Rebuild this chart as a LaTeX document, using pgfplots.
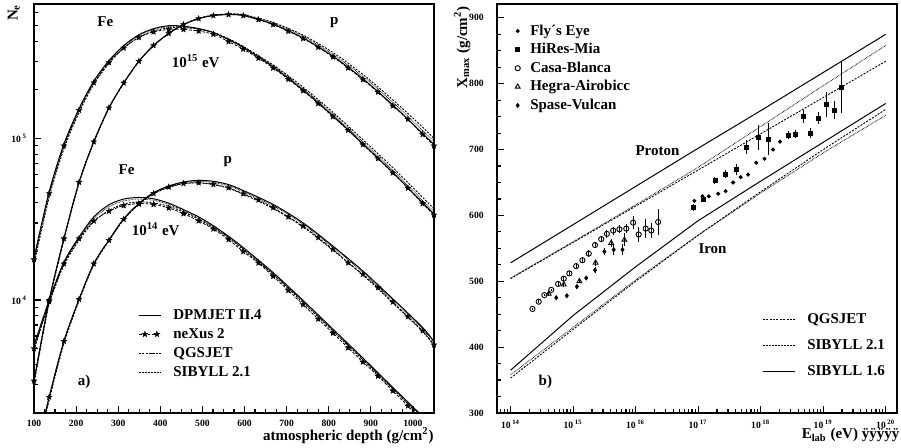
\documentclass[border=0pt]{standalone}
\usepackage{pgfplots}
\pgfplotsset{compat=1.18}
\usepackage{pgfplotstable}
\usepackage{fontspec}
\setmainfont{Liberation Serif}

% filled five-pointed star for the neXus curves
\pgfdeclareplotmark{fstar}{%
  \pgfpathmoveto{\pgfpointpolar{90}{\pgfplotmarksize}}%
  \pgfpathlineto{\pgfpointpolar{126}{0.42\pgfplotmarksize}}%
  \pgfpathlineto{\pgfpointpolar{162}{\pgfplotmarksize}}%
  \pgfpathlineto{\pgfpointpolar{198}{0.42\pgfplotmarksize}}%
  \pgfpathlineto{\pgfpointpolar{234}{\pgfplotmarksize}}%
  \pgfpathlineto{\pgfpointpolar{270}{0.42\pgfplotmarksize}}%
  \pgfpathlineto{\pgfpointpolar{306}{\pgfplotmarksize}}%
  \pgfpathlineto{\pgfpointpolar{342}{0.42\pgfplotmarksize}}%
  \pgfpathlineto{\pgfpointpolar{18}{\pgfplotmarksize}}%
  \pgfpathlineto{\pgfpointpolar{54}{0.42\pgfplotmarksize}}%
  \pgfpathclose
  \pgfusepathqfillstroke}

\newcommand{\lab}{\fontsize{7.5}{9}\selectfont\bfseries}
\newcommand{\tck}{\fontsize{4.8}{5.5}\selectfont\bfseries}

% Fe, 10^15 eV
\pgfplotstableread{
x dpm qgs sib
100 18200 16600 17380
136 46800 43150 45190
171 92300 86100 89130
207 153100 144500 149600
242 226500 216300 223900
278 303400 291700 300600
313 375800 363100 371500
349 438500 423600 433500
384 478600 462400 473200
420 498900 484200 493200
455 495500 486400 492000
491 478600 475300 478600
526 451900 453900 453900
562 409300 414000 412100
597 365600 371500 368900
668 277300 285100 281800
739 199500 208000 203200
810 138000 145200 141300
881 92680 98400 95060
952 61660 66070 63530
1023 39990 43150 41300
1050 34040 36730 35160
}\fefifteen

% p, 10^15 eV
\pgfplotstableread{
x dpm qgs sib
100 3160 3020 3090
136 10000 9660 9880
171 24000 23500 23800
207 53700 52900 53400
242 95500 94400 95100
278 154900 153600 154500
313 220800 219300 220300
349 300600 299200 300200
384 376700 375800 376500
420 446700 446700 446700
455 507000 508200 507600
491 552100 554600 553200
526 576800 580700 578800
562 584800 588800 587500
597 576800 584800 582100
668 509300 522400 516400
739 418800 436500 428500
810 322800 340400 331100
881 234400 249500 242100
952 161400 173800 167500
1023 107400 117500 112200
1050 91620 100000 95500
}\pfifteen

% Fe, 10^14 eV
\pgfplotstableread{
x dpm qgs sib
100 5248 4898 5070
136 10000 9550 9772
171 17180 16410 16900
207 24550 23440 24150
242 32730 30550 31990
278 38900 35890 37840
313 42170 39360 41110
349 43150 40460 42170
384 42360 39990 41500
420 39810 38020 39080
455 36310 35080 35730
491 32730 31620 32140
526 28840 28050 28310
562 24830 24270 24430
597 21130 20510 20750
668 14790 14390 14520
739 9954 9661 9772
810 6607 6427 6486
881 4385 4266 4305
952 2884 2818 2831
1023 1905 1854 1871
1050 1622 1578 1592
}\fefourteen

% p, 10^14 eV
\pgfplotstableread{
x dpm qgs sib
100 1000 955 977
136 2512 2399 2455
171 5559 5370 5495
207 10120 9886 10050
242 16790 16520 16710
278 23550 23230 23500
313 31840 31410 31770
349 39630 39080 39540
384 46240 45390 46030
420 50820 49770 50470
455 53830 52480 53330
491 55080 53090 54330
526 54330 51880 53460
562 51880 49200 50930
597 47640 45190 46770
668 39080 36900 38370
739 30060 28380 29510
810 21580 20370 21180
881 15140 14290 14860
952 10190 9616 10000
1023 6761 6383 6637
1050 5534 5224 5433
}\pfourteen

% neXus 2, all four showers
\pgfplotstableread{
x fe15 p15 fe14 p14
100 17800 3160 5012 1000
136 45700 10000 9772 2512
171 90200 24000 16790 5559
207 149600 53700 23990 10120
242 221300 95500 30900 16790
278 295100 154900 35480 23440
313 363100 220800 38460 31620
349 421700 300600 39540 39360
384 457100 376700 39080 45710
420 473200 446700 37150 50120
455 473200 507000 34280 52720
491 462400 552100 30900 53210
526 441600 576800 27540 52000
562 398100 584800 23710 49550
597 357300 576800 19950 45500
633 314100 544500 16980 41690
668 273500 507000 14030 37330
704 232800 461300 11480 32730
739 197700 415900 9376 28710
775 164800 367300 7638 24380
810 136500 319900 6237 20610
846 112500 273500 5070 17020
881 91620 231700 4140 14450
917 75160 193600 3388 11940
952 61240 159200 2742 9727
988 49320 131500 2213 7889
1023 39540 105900 1799 6457
1050 33650 90160 1531 5284
}\nexus

\pgfplotsset{
  every axis/.append style={
    scale only axis, width=200pt, height=204.5pt,
    axis line style={line width=0.8pt},
    tick style={black, line width=0.6pt},
    major tick length=3.5pt, minor tick length=2.2pt,
    tick align=inside, tick pos=left,
    ticklabel style={font=\tck},
    /pgf/number format/assume math mode=true,
    /pgf/number format/1000 sep={},
    label style={font=\lab},
  },
  dpm/.style={black, line width=0.5pt, smooth, no markers},
  nex/.style={black, line width=0.4pt, smooth, dash pattern=on 1.4pt off 0.8pt,
    mark=fstar, mark size=1.5pt, mark options={solid, fill=black, line width=0.2pt}},
  qgs/.style={black, line width=0.45pt, smooth, dash pattern=on 1pt off 0.7pt, no markers},
  sib/.style={black, line width=0.45pt, smooth, dash pattern=on 0.3pt off 0.45pt, no markers},
}

\begin{document}
\begin{tikzpicture}
\useasboundingbox (0,0) rectangle (450.5pt,223.5pt);

% ---------- a) longitudinal profiles ----------
\begin{axis}[
  at={(17pt,17pt)}, anchor=south west,
  xmin=100, xmax=1050, ymode=log, ymin=2000, ymax=6.8e5,
  xtick={100,200,...,1000}, minor x tick num=3,
  ytick={1e4,1e5}, yticklabels={10\,\textsuperscript{4},10\,\textsuperscript{5}},
  minor ytick={3000,4000,5000,6000,7000,8000,9000,20000,30000,40000,50000,60000,
    70000,80000,90000,200000,300000,400000,500000,600000},
  xlabel={atmospheric depth (g/cm\textsuperscript{2})},
  xlabel style={at={(rel axis cs:1,0)}, anchor=north east, yshift=-7pt, inner sep=0pt},
  ylabel={N\textsubscript{e}},
  ylabel style={at={([xshift=-7pt]rel axis cs:0,1)}, anchor=south east, inner sep=0pt},
  legend cell align=left,
  legend style={draw=none, fill=none, font=\lab, at={(rel axis cs:0.26,0.262)},
    anchor=north west, inner sep=0pt, row sep=0.5pt, column sep=5pt,
    nodes={inner sep=1pt, text height=5.5pt, text depth=1.5pt}},
  legend image code/.code={\draw[mark repeat=2, mark phase=2, #1] plot coordinates
    {(0pt,0pt) (3pt,0pt) (6pt,0pt) (9pt,0pt) (11pt,0pt)};},
]
\addplot[dpm] table[x=x, y=dpm] {\fefifteen};
\addlegendentry{DPMJET II.4}
\addplot[nex] table[x=x, y=fe15] {\nexus};
\addlegendentry{neXus 2}
\addplot[qgs] table[x=x, y=qgs] {\fefifteen};
\addlegendentry{QGSJET}
\addplot[sib] table[x=x, y=sib] {\fefifteen};
\addlegendentry{SIBYLL 2.1}

\addplot[dpm, forget plot] table[x=x, y=dpm] {\pfifteen};
\addplot[nex, forget plot] table[x=x, y=p15] {\nexus};
\addplot[qgs, forget plot] table[x=x, y=qgs] {\pfifteen};
\addplot[sib, forget plot] table[x=x, y=sib] {\pfifteen};

\addplot[dpm, forget plot] table[x=x, y=dpm] {\fefourteen};
\addplot[nex, forget plot] table[x=x, y=fe14] {\nexus};
\addplot[qgs, forget plot] table[x=x, y=qgs] {\fefourteen};
\addplot[sib, forget plot] table[x=x, y=sib] {\fefourteen};

\addplot[dpm, forget plot] table[x=x, y=dpm] {\pfourteen};
\addplot[nex, forget plot] table[x=x, y=p14] {\nexus};
\addplot[qgs, forget plot] table[x=x, y=qgs] {\pfourteen};
\addplot[sib, forget plot] table[x=x, y=sib] {\pfourteen};

\node[font=\lab] at (axis cs:269.5,5.3e5) {Fe};
\node[font=\lab] at (axis cs:813,5.2e5) {p};
\node[font=\lab] at (axis cs:484,3.0e5) {10\textsuperscript{15} eV};
\node[font=\lab] at (axis cs:320,6.4e4) {Fe};
\node[font=\lab] at (axis cs:560,7.2e4) {p};
\node[font=\lab] at (axis cs:389,2.73e4) {10\textsuperscript{14} eV};
\node[font=\lab] at (axis cs:219,3.1e3) {a)};
\end{axis}

% ---------- b) Xmax versus energy: model lines ----------
\begin{axis}[
  at={(248.35pt,17pt)}, anchor=south west,
  xmode=log, xmin=6e13, xmax=1.5e20, ymin=300, ymax=921,
  xtick={1e14,1e15,1e16,1e17,1e18,1e19,1e20},
  xticklabels={10\,\textsuperscript{14},10\,\textsuperscript{15},10\,\textsuperscript{16},
    10\,\textsuperscript{17},10\,\textsuperscript{18},10\,\textsuperscript{19},10\,\textsuperscript{20}},
  minor xtick={7e13,8e13,9e13,
    2e14,3e14,4e14,5e14,6e14,7e14,8e14,9e14,
    2e15,3e15,4e15,5e15,6e15,7e15,8e15,9e15,
    2e16,3e16,4e16,5e16,6e16,7e16,8e16,9e16,
    2e17,3e17,4e17,5e17,6e17,7e17,8e17,9e17,
    2e18,3e18,4e18,5e18,6e18,7e18,8e18,9e18,
    2e19,3e19,4e19,5e19,6e19,7e19,8e19,9e19},
  ytick={300,400,...,900}, minor y tick num=3,
  yticklabel style={xshift=-3pt},
  xlabel={E\textsubscript{lab} (eV) ÿÿÿÿÿ},
  xlabel style={at={([xshift=1.5pt]rel axis cs:1,0)}, anchor=north east, yshift=-7.5pt, inner sep=0pt},
  ylabel={X\textsubscript{max} (g/cm\textsuperscript{2})},
  ylabel style={at={([xshift=-13pt,yshift=-1pt]rel axis cs:0,1)}, anchor=south east, inner sep=0pt},
  legend cell align=left,
  legend style={draw=none, fill=none, font=\lab, at={(rel axis cs:0.663,0.252)},
    anchor=north west, inner sep=0pt, row sep=4pt, column sep=5pt,
    nodes={inner sep=1pt, text height=5.5pt, text depth=1.5pt}},
  legend image code/.code={\draw[#1] (0pt,0pt) -- (16pt,0pt);},
]
\addplot[black, line width=0.45pt, dash pattern=on 1pt off 0.7pt] coordinates {
  (1e14,504) (1e15,559) (1e16,614) (1e17,669) (1e18,724) (1e19,779) (1e20,834)};
\addlegendentry{QGSJET}
\addplot[black, line width=0.45pt, dash pattern=on 0.3pt off 0.45pt] coordinates {
  (1e14,505) (1e15,560) (1e16,616) (1e17,673) (1e18,735) (1e19,797) (1e20,858)};
\addlegendentry{SIBYLL 2.1}
\addplot[black, line width=0.5pt] coordinates {
  (1e14,528) (1e15,586) (1e16,644) (1e17,702) (1e18,759) (1e19,817) (1e20,875)};
\addlegendentry{SIBYLL 1.6}
% iron
\addplot[black, line width=0.45pt, dash pattern=on 1pt off 0.7pt, forget plot] coordinates {
  (1e14,353) (1e15,427) (1e16,500) (1e17,570) (1e18,636) (1e19,700) (1e20,761)};
\addplot[black, line width=0.45pt, dash pattern=on 0.3pt off 0.45pt, forget plot] coordinates {
  (1e14,358) (1e15,430) (1e16,502) (1e17,570) (1e18,634) (1e19,695) (1e20,752)};
\addplot[black, line width=0.5pt, forget plot] coordinates {
  (1e14,365) (1e15,448) (1e16,522) (1e17,592) (1e18,652) (1e19,711) (1e20,770)};

\node[font=\lab] at (axis cs:2.24e16,698) {Proton};
\node[font=\lab] at (axis cs:1.7e17,550) {Iron};
\node[font=\lab] at (axis cs:3.6e14,348) {b)};
\end{axis}

% ---------- b) measured points ----------
\begin{axis}[
  at={(248.35pt,17pt)}, anchor=south west, hide axis,
  xmode=log, xmin=6e13, xmax=1.5e20, ymin=300, ymax=921,
  legend cell align=left,
  legend style={draw=none, fill=none, font=\lab, at={(rel axis cs:0.045,0.957)},
    anchor=north west, inner sep=0pt, row sep=0.3pt, column sep=4pt,
    nodes={inner sep=1pt, text height=5.5pt, text depth=1.5pt}},
  legend image code/.code={\draw[#1] plot coordinates {(0pt,0pt)};},
  error bars/error bar style={black, line width=0.5pt},
  error bars/error mark=none,
]
\addplot[black, only marks, mark=*, mark size=0.8pt] coordinates {
  (8.71e16,622) (1.17e17,629) (1.48e17,629) (2.09e17,633) (2.75e17,637) (3.63e17,650)
  (4.79e17,658) (6.31e17,662) (8.51e17,680) (1.15e18,686) (1.58e18,700) (2.04e18,712)};
\addlegendentry{Fly\textasciiacute s Eye}
\addplot[black, only marks, mark=square*, mark size=1pt,
  error bars/.cd, y dir=both, y explicit] coordinates {
  (8.32e16,612) +- (0,6) (1.20e17,624) +- (0,4) (1.86e17,653) +- (0,5)
  (2.69e17,663) +- (0,6) (4.07e17,670) +- (0,8) (5.89e17,704) +- (0,10)
  (9.12e17,719) +- (0,19) (1.35e18,716) +- (0,24) (2.82e18,722) +- (0,6)
  (3.63e18,723) +- (0,6) (4.79e18,750) +- (0,10) (6.31e18,725) +- (0,8)
  (8.51e18,748) +- (0,9) (1.12e19,768) +- (0,19) (1.51e19,760) +- (0,13)
  (1.95e19,795) +- (0,39)};
\addlegendentry{HiRes-Mia}
\addplot[black, only marks, mark=o, mark size=1.3pt, mark options={line width=0.45pt},
  error bars/.cd, y dir=both, y explicit] coordinates {
  (2.24e14,458) +- (0,2) (2.82e14,469) +- (0,2) (3.47e14,479) +- (0,2)
  (4.47e14,487) +- (0,2) (5.75e14,496) +- (0,3) (7.08e14,504) +- (0,4)
  (8.71e14,512) +- (0,3) (1.12e15,523) +- (0,4) (1.41e15,532) +- (0,4)
  (1.78e15,542) +- (0,5) (2.24e15,555) +- (0,5) (2.82e15,564) +- (0,5)
  (3.47e15,572) +- (0,6) (4.37e15,577) +- (0,6) (5.50e15,579) +- (0,6)
  (7.08e15,580) +- (0,7) (9.12e15,589) +- (0,10) (1.12e16,571) +- (0,12)
  (1.45e16,580) +- (0,14) (1.78e16,577) +- (0,12) (2.29e16,590) +- (0,20)};
\addlegendentry{Casa-Blanca}
\addplot[black, only marks, mark=triangle, mark size=1.4pt, mark options={line width=0.45pt},
  error bars/.cd, y dir=both, y explicit] coordinates {
  (4.07e14,481) +- (0,3) (7.08e14,495) +- (0,3) (1.26e15,500) +- (0,3)
  (2.29e15,528) +- (0,5) (4.07e15,558) +- (0,6) (6.61e15,563) +- (0,10)};
\addlegendentry{Hegra-Airobicc}
\addplot[black, only marks, mark=diamond*, mark size=1pt,
  error bars/.cd, y dir=both, y explicit] coordinates {
  (5.37e14,475) +- (0,2) (7.94e14,478) +- (0,2) (1.15e15,492) +- (0,3)
  (1.62e15,505) +- (0,3) (2.24e15,517) +- (0,4) (3.16e15,545) +- (0,5)
  (4.47e15,548) +- (0,8) (6.17e15,548) +- (0,8)};
\addlegendentry{Spase-Vulcan}
\end{axis}
\end{tikzpicture}
\end{document}
